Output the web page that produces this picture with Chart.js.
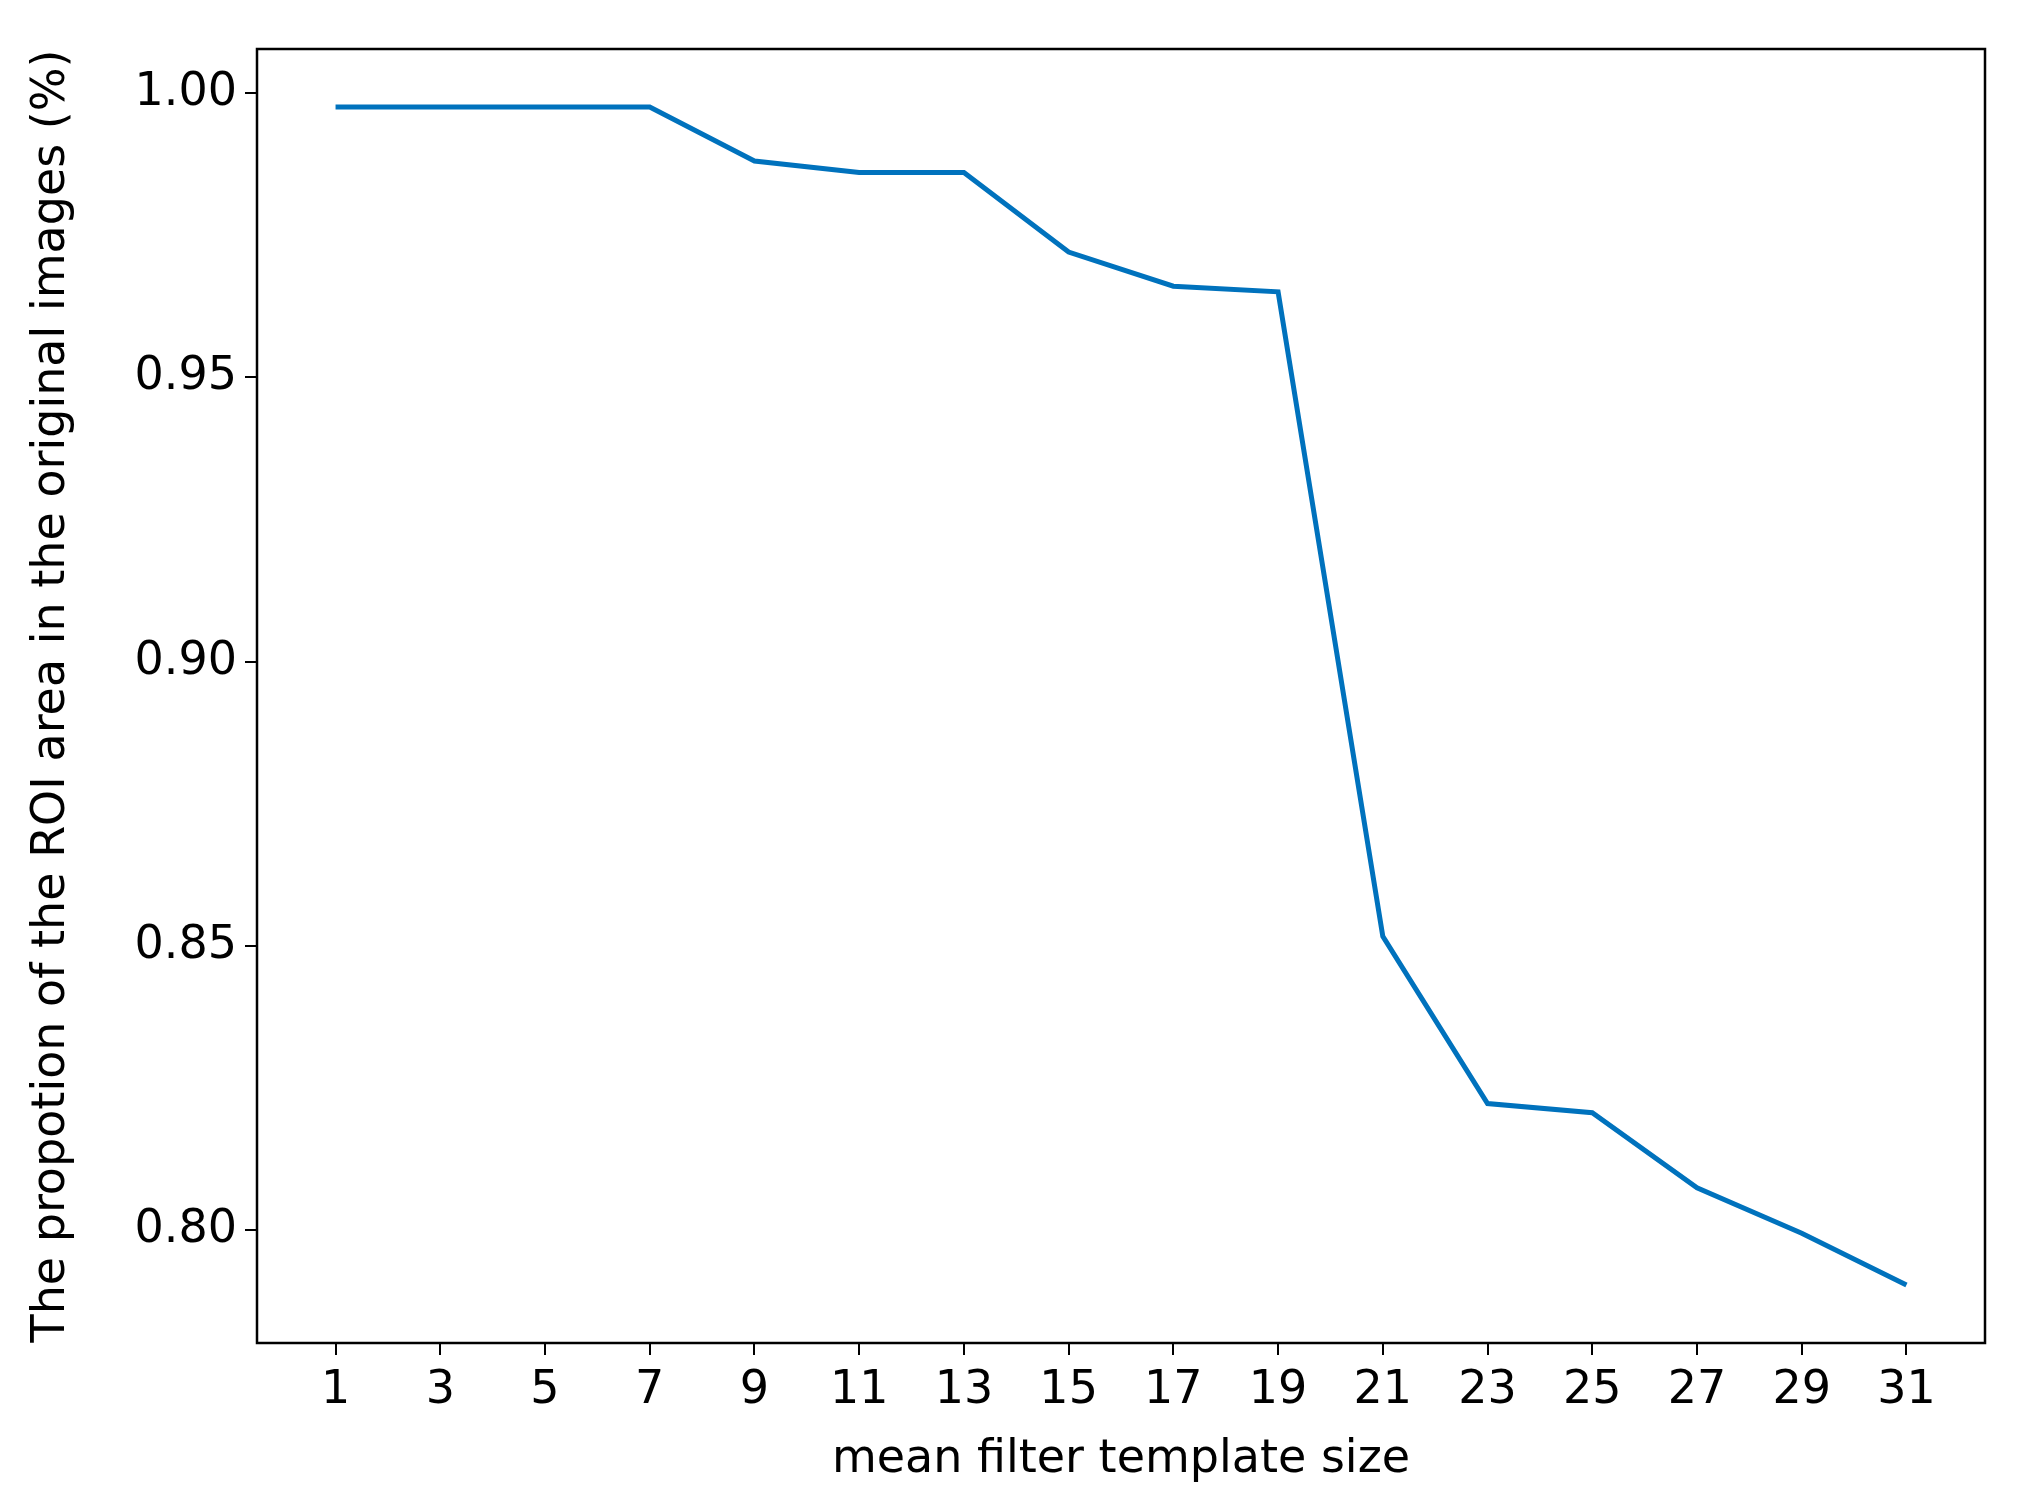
<!DOCTYPE html>
<html>
<head>
<script src="https://cdn.jsdelivr.net/npm/chart.js@4"></script>
<style>
  html, body { margin: 0; padding: 0; background: #fff; }
  #wrap { width: 2021px; height: 1506px; }
</style>
</head>
<body>
<div id="wrap"><canvas id="lineChart"></canvas></div>
<script>
// mean filter template sizes
var sizes = [1, 3, 5, 7, 9, 11, 13, 15, 17, 19, 21, 23, 25, 27, 29, 31];
// ROI proportion
var proportion = [0.9975, 0.9975, 0.9975, 0.9975, 0.988, 0.986, 0.986, 0.972,
  0.966, 0.965, 0.8517, 0.8223, 0.8207, 0.8075, 0.7995, 0.7904];
var yTicks = [0.80, 0.85, 0.90, 0.95, 1.00];

var points = sizes.map(function (s, i) { return { x: s, y: proportion[i] }; });

// box around plot area
var frame = {
  id: 'frame',
  afterDraw: function (chart) {
    var a = chart.chartArea, c = chart.ctx;
    c.save();
    c.strokeStyle = '#000';
    c.lineWidth = 2.5;
    c.strokeRect(a.left, a.top, a.right - a.left, a.bottom - a.top);
    c.restore();
  }
};

var font = { family: 'DejaVu Sans', size: 46 };

new Chart(document.getElementById('lineChart').getContext('2d'), {
  type: 'line',
  data: {
    datasets: [{
      data: points,
      borderColor: 'rgb(0, 114, 189)',
      borderWidth: 5,
      pointRadius: 0,
      tension: 0,
      fill: false
    }]
  },
  options: {
    responsive: true,
    maintainAspectRatio: false,
    animation: false,
    layout: { padding: { left: 20, top: 49, right: 36, bottom: 14 } },
    plugins: { legend: { display: false }, tooltip: { enabled: false } },
    scales: {
      x: {
        type: 'linear',
        min: -0.5,
        max: 32.5,
        afterBuildTicks: function (s) { s.ticks = sizes.map(function (v) { return { value: v }; }); },
        afterFit: function (s) { s.height = 149; },
        grid: { drawOnChartArea: false, tickLength: 12, color: '#000', lineWidth: 2 },
        border: { display: false },
        ticks: { color: '#000', font: font, maxRotation: 0, autoSkip: false, padding: 8 },
        title: { display: true, text: 'mean filter template size', color: '#000', font: font, padding: { top: 0 } }
      },
      y: {
        min: 0.7802,
        max: 1.0077,
        afterBuildTicks: function (s) { s.ticks = yTicks.map(function (v) { return { value: v }; }); },
        afterFit: function (s) { s.width = 237; },
        grid: { drawOnChartArea: false, tickLength: 12, color: '#000', lineWidth: 2 },
        border: { display: false },
        ticks: {
          color: '#000', font: font, padding: 8,
          callback: function (v) { return v.toFixed(2); }
        },
        title: { display: true, text: 'The propotion of the ROI area in the original images (%)', color: '#000', font: font, padding: { bottom: 10 } }
      }
    }
  },
  plugins: [frame]
});
</script>
</body>
</html>
